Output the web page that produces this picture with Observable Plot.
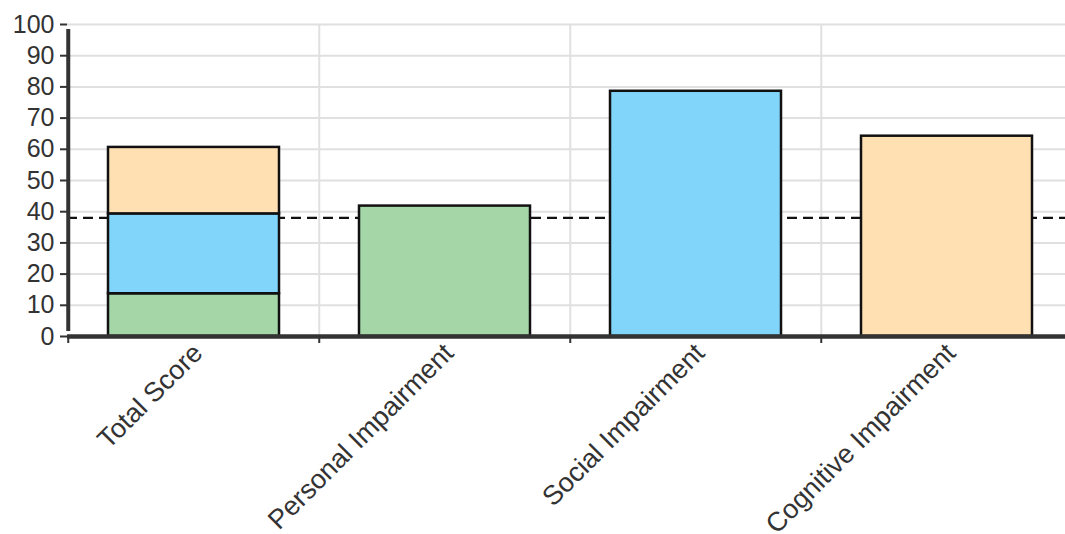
<!DOCTYPE html>
<html>
<head>
<meta charset="utf-8">
<script src="https://cdn.jsdelivr.net/npm/d3@7"></script>
<script src="https://cdn.jsdelivr.net/npm/@observablehq/plot@0.6"></script>
<style>
  html, body { margin: 0; padding: 0; background: #fff; overflow: hidden; }
  #chart svg { display: block; max-width: none !important; }
</style>
</head>
<body>
<div id="chart"></div>
<script>
const categories = ["Total Score", "Personal Impairment", "Social Impairment", "Cognitive Impairment"];
const parts = ["Personal", "Social", "Cognitive"];
const partColors = ["#a5d6a7", "#81d4fa", "#ffe0b2"];
const totalParts = [13.7, 25.6, 21.3];
const subscores = [41.8, 78.6, 64.2];
const threshold = 38;
const yTicks = [0, 10, 20, 30, 40, 50, 60, 70, 80, 90, 100];

const table = [
  ...parts.map((p, i) => ({category: categories[0], part: p, value: totalParts[i]})),
  ...parts.map((p, i) => ({category: categories[i + 1], part: p, value: subscores[i]}))
];

const W = 1073, H = 534, ML = 67, MR = 0, MT = 24, MB = 198;
const half = (W - ML - MR) / categories.length / 2;
const fontFamily = "'Liberation Sans', Arial, sans-serif";

const chart = Plot.plot({
  width: W, height: H,
  marginLeft: ML, marginRight: MR, marginTop: MT, marginBottom: MB,
  style: {fontFamily, background: "#fff", overflow: "visible", maxWidth: "none"},
  x: {domain: categories, padding: 0, label: null},
  y: {domain: [0, 100], label: null},
  color: {domain: parts, range: partColors},
  marks: [
    Plot.gridY(yTicks, {stroke: "#e0e0e0", strokeOpacity: 1, strokeWidth: 2}),
    Plot.ruleX(categories.slice(1), {x: d => d, dx: -half, stroke: "#e0e0e0", strokeWidth: 2}),
    Plot.ruleY([threshold], {stroke: "#111", strokeWidth: 2.2, strokeDasharray: "10,6"}),
    Plot.barY(table, {x: "category", y: "value", fill: "part", stroke: "#111", strokeWidth: 2.5, insetLeft: 40, insetRight: 40}),
    Plot.ruleY([0], {stroke: "#333", strokeWidth: 4.5}),
    Plot.ruleX(categories.slice(0, 1), {x: d => d, dx: -half, y1: 0, y2: 100, insetTop: -5, insetBottom: -5, stroke: "#333", strokeWidth: 4}),
    Plot.ruleX(categories, {x: d => d, dx: -half, y1: 0, y2: 0, insetBottom: -7, stroke: "#333", strokeWidth: 2}),
    Plot.axisY(yTicks, {tickSize: 7, tickPadding: 6, fontSize: 25, color: "#333", stroke: "#333", strokeWidth: 2}),
    Plot.axisX({tickSize: 0, tickRotate: -45, tickPadding: 12, dx: 4, fontSize: 27, color: "#333"})
  ]
});
document.getElementById("chart").appendChild(chart);
</script>
</body>
</html>
